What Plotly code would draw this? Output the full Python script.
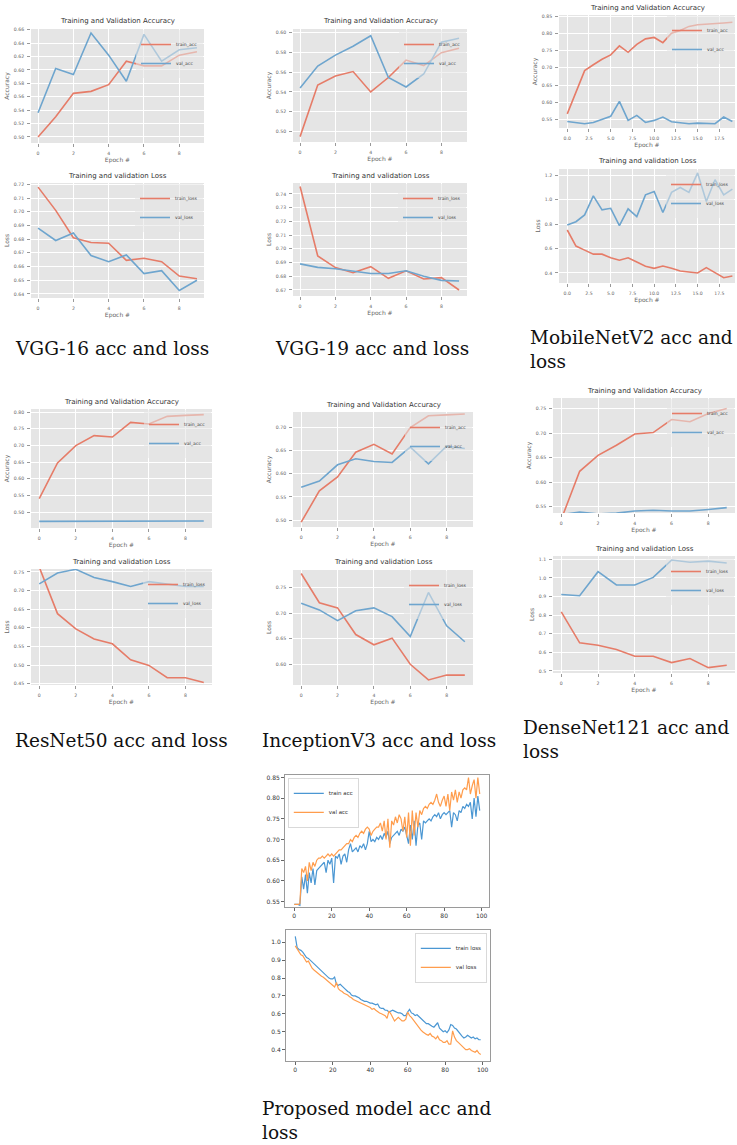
import plotly.graph_objects as go

W, H = 737, 1145

# ---------------- data ----------------
epochs_10 = list(range(10))
epochs_20 = list(range(20))
epochs_100 = list(range(100))

vgg16_train_acc = [0.500, 0.530, 0.565, 0.568, 0.578, 0.613, 0.606, 0.606, 0.622, 0.627]
vgg16_val_acc = [0.536, 0.602, 0.593, 0.655, 0.622, 0.583, 0.653, 0.613, 0.630, 0.633]
vgg16_train_loss = [0.718, 0.701, 0.681, 0.6775, 0.677, 0.6645, 0.666, 0.6635, 0.653, 0.651]
vgg16_val_loss = [0.688, 0.679, 0.6845, 0.668, 0.6635, 0.6685, 0.6548, 0.657, 0.6425, 0.650]

vgg19_train_acc = [0.495, 0.547, 0.556, 0.5605, 0.540, 0.5545, 0.572, 0.5665, 0.5795, 0.584]
vgg19_val_acc = [0.544, 0.566, 0.577, 0.586, 0.5965, 0.5545, 0.545, 0.558, 0.590, 0.594]
vgg19_train_loss = [0.7455, 0.6948, 0.6863, 0.6826, 0.687, 0.6785, 0.684, 0.678, 0.679, 0.670]
vgg19_val_loss = [0.689, 0.6865, 0.6855, 0.684, 0.682, 0.682, 0.684, 0.680, 0.677, 0.6765]

mobilenet_train_acc = [0.567, 0.632, 0.692, 0.709, 0.725, 0.7375, 0.7635, 0.745, 0.768, 0.784,
                       0.788, 0.773, 0.800, 0.808, 0.820, 0.825, 0.826, 0.828, 0.830, 0.832]
mobilenet_val_acc = [0.545, 0.542, 0.5385, 0.542, 0.552, 0.560, 0.603, 0.548, 0.5625, 0.542,
                     0.548, 0.5577, 0.544, 0.542, 0.5385, 0.540, 0.5385, 0.5385, 0.5577, 0.545]
mobilenet_train_loss = [0.752, 0.620, 0.587, 0.554, 0.554, 0.524, 0.504, 0.524, 0.490, 0.455,
                        0.438, 0.457, 0.438, 0.416, 0.408, 0.400, 0.444, 0.400, 0.361, 0.375]
mobilenet_val_loss = [0.793, 0.820, 0.876, 1.032, 0.917, 0.930, 0.788, 0.925, 0.862, 1.040,
                      1.068, 0.895, 1.060, 1.100, 1.060, 1.220, 0.985, 1.164, 1.040, 1.087]

resnet_train_acc = [0.540, 0.647, 0.699, 0.729, 0.725, 0.769, 0.764, 0.787, 0.790, 0.792]
resnet_val_acc = [0.472, 0.472, 0.472, 0.472, 0.472, 0.473, 0.473, 0.473, 0.474, 0.473]
resnet_train_loss = [0.763, 0.638, 0.597, 0.570, 0.557, 0.514, 0.499, 0.466, 0.466, 0.453]
resnet_val_loss = [0.718, 0.747, 0.757, 0.735, 0.724, 0.711, 0.724, 0.718, 0.711, 0.711]

inception_train_acc = [0.496, 0.563, 0.593, 0.646, 0.663, 0.642, 0.699, 0.724, 0.726, 0.728]
inception_val_acc = [0.571, 0.584, 0.619, 0.632, 0.626, 0.624, 0.657, 0.621, 0.659, 0.654]
inception_train_loss = [0.777, 0.720, 0.710, 0.658, 0.638, 0.651, 0.600, 0.5695, 0.579, 0.579]
inception_val_loss = [0.719, 0.706, 0.685, 0.7045, 0.710, 0.693, 0.654, 0.740, 0.675, 0.644]

densenet_train_acc = [0.524, 0.622, 0.6545, 0.675, 0.698, 0.701, 0.7275, 0.723, 0.740, 0.750]
densenet_val_acc = [0.5336, 0.5388, 0.535, 0.5366, 0.541, 0.5425, 0.541, 0.541, 0.544, 0.5478]
densenet_train_loss = [0.818, 0.651, 0.638, 0.615, 0.579, 0.579, 0.545, 0.567, 0.518, 0.531]
densenet_val_loss = [0.911, 0.904, 1.0335, 0.962, 0.962, 1.003, 1.096, 1.084, 1.090, 1.080]

proposed_train_acc = [
    0.543, 0.543, 0.543, 0.541, 0.610, 0.580, 0.615, 0.570, 0.620, 0.595,
    0.630, 0.590, 0.625, 0.630, 0.635, 0.640, 0.645, 0.620, 0.650, 0.640,
    0.655, 0.595, 0.660, 0.655, 0.665, 0.640, 0.660, 0.665, 0.645, 0.675,
    0.690, 0.670, 0.675, 0.680, 0.670, 0.685, 0.680, 0.690, 0.675, 0.690,
    0.720, 0.695, 0.700, 0.695, 0.705, 0.700, 0.710, 0.700, 0.715, 0.705,
    0.720, 0.690, 0.705, 0.710, 0.715, 0.720, 0.710, 0.725, 0.720, 0.730,
    0.710, 0.690, 0.735, 0.700, 0.745, 0.685, 0.735, 0.740, 0.700, 0.745,
    0.740, 0.745, 0.750, 0.745, 0.755, 0.760, 0.755, 0.765, 0.750, 0.760,
    0.765, 0.760, 0.765, 0.770, 0.730, 0.765, 0.760, 0.745, 0.770, 0.765,
    0.780, 0.775, 0.785, 0.780, 0.790, 0.750, 0.800, 0.755, 0.805, 0.770]
proposed_val_acc = [
    0.543, 0.543, 0.543, 0.545, 0.630, 0.620, 0.635, 0.600, 0.645, 0.625,
    0.645, 0.635, 0.650, 0.655, 0.655, 0.660, 0.655, 0.660, 0.665, 0.660,
    0.665, 0.660, 0.665, 0.670, 0.675, 0.675, 0.680, 0.685, 0.690, 0.690,
    0.700, 0.695, 0.705, 0.710, 0.705, 0.715, 0.720, 0.715, 0.725, 0.730,
    0.725, 0.710, 0.720, 0.725, 0.730, 0.730, 0.740, 0.720, 0.745, 0.700,
    0.750, 0.680, 0.745, 0.735, 0.755, 0.740, 0.760, 0.750, 0.720, 0.755,
    0.705, 0.765, 0.685, 0.770, 0.710, 0.765, 0.730, 0.770, 0.760, 0.775,
    0.780, 0.775, 0.785, 0.790, 0.785, 0.795, 0.810, 0.790, 0.780, 0.795,
    0.805, 0.780, 0.810, 0.770, 0.815, 0.795, 0.820, 0.790, 0.815, 0.800,
    0.820, 0.825, 0.820, 0.850, 0.810, 0.830, 0.845, 0.800, 0.850, 0.810]
proposed_train_loss = [
    1.033, 0.970, 0.960, 0.955, 0.945, 0.930, 0.915, 0.910, 0.900, 0.885,
    0.875, 0.870, 0.860, 0.850, 0.840, 0.830, 0.820, 0.810, 0.800, 0.795,
    0.795, 0.805, 0.765, 0.760, 0.765, 0.755, 0.745, 0.730, 0.725, 0.720,
    0.705, 0.700, 0.700, 0.695, 0.690, 0.680, 0.675, 0.670, 0.670, 0.665,
    0.660, 0.660, 0.655, 0.650, 0.655, 0.635, 0.630, 0.630, 0.620, 0.620,
    0.610, 0.615, 0.620, 0.615, 0.610, 0.605, 0.605, 0.600, 0.590, 0.590,
    0.610, 0.625, 0.605, 0.600, 0.590, 0.595, 0.585, 0.575, 0.565, 0.550,
    0.545, 0.545, 0.535, 0.530, 0.525, 0.540, 0.550, 0.520, 0.510, 0.500,
    0.505, 0.495, 0.510, 0.540, 0.535, 0.520, 0.515, 0.500, 0.490, 0.475,
    0.465, 0.470, 0.480, 0.470, 0.465, 0.470, 0.460, 0.465, 0.455, 0.455]
proposed_val_loss = [
    0.980, 0.965, 0.950, 0.930, 0.925, 0.905, 0.890, 0.895, 0.870, 0.855,
    0.845, 0.835, 0.830, 0.820, 0.810, 0.805, 0.795, 0.785, 0.775, 0.765,
    0.755, 0.750, 0.775, 0.740, 0.730, 0.725, 0.715, 0.710, 0.705, 0.695,
    0.690, 0.680, 0.675, 0.670, 0.665, 0.660, 0.655, 0.650, 0.645, 0.640,
    0.635, 0.625, 0.630, 0.620, 0.610, 0.605, 0.600, 0.595, 0.590, 0.575,
    0.615, 0.600, 0.580, 0.560, 0.570, 0.580, 0.570, 0.560, 0.560, 0.570,
    0.610, 0.590, 0.580, 0.565, 0.550, 0.540, 0.520, 0.510, 0.500, 0.490,
    0.485, 0.480, 0.490, 0.475, 0.470, 0.460, 0.475, 0.455, 0.450, 0.440,
    0.440, 0.450, 0.430, 0.430, 0.505, 0.470, 0.450, 0.440, 0.430, 0.420,
    0.410, 0.400, 0.400, 0.405, 0.395, 0.390, 0.385, 0.395, 0.380, 0.373]

acc_title = "Training and Validation Accuracy"
loss_title = "Training and validation Loss"
captions = [
    ("VGG-16 acc and loss", 13, 348),
    ("VGG-19 acc and loss", 273, 348),
    ("MobileNetV2 acc and<br>loss", 528, 349),
    ("ResNet50 acc and loss", 13, 740),
    ("InceptionV3 acc and loss", 260, 740),
    ("DenseNet121 acc and<br>loss", 521, 739),
    ("Proposed model acc and<br>loss", 260, 1120),
]

# ---------------- panel configuration ----------------
# box = (left, right, top, bottom) in pixels
panels = [
    dict(x=epochs_10, tr=vgg16_train_acc, va=vgg16_val_acc, kind="acc", box=(31, 204, 29, 143),
         yr=(0.491, 0.661), ydt=0.02, yfmt=".2f", xr=(-0.4, 9.4), xdt=2, xfmt="d", style="gg"),
    dict(x=epochs_10, tr=vgg16_train_loss, va=vgg16_val_loss, kind="loss", box=(31, 204, 183, 298),
         yr=(0.637, 0.721), ydt=0.01, yfmt=".2f", xr=(-0.4, 9.4), xdt=2, xfmt="d", style="gg"),
    dict(x=epochs_10, tr=vgg19_train_acc, va=vgg19_val_acc, kind="acc", box=(293, 467, 29, 142),
         yr=(0.4896, 0.6033), ydt=0.02, yfmt=".2f", xr=(-0.4, 9.45), xdt=2, xfmt="d", style="gg"),
    dict(x=epochs_10, tr=vgg19_train_loss, va=vgg19_val_loss, kind="loss", box=(293, 467, 183, 296),
         yr=(0.6656, 0.748), ydt=0.01, yfmt=".2f", xr=(-0.4, 9.45), xdt=2, xfmt="d", style="gg"),
    dict(x=epochs_20, tr=mobilenet_train_acc, va=mobilenet_val_acc, kind="acc", box=(559, 735, 15, 128),
         yr=(0.526, 0.853), ydt=0.05, yfmt=".2f", xr=(-0.95, 19.3), xdt=2.5, xfmt=".1f", style="gg"),
    dict(x=epochs_20, tr=mobilenet_train_loss, va=mobilenet_val_loss, kind="loss", box=(559, 735, 169, 283),
         yr=(0.3175, 1.252), ydt=0.2, yfmt=".1f", xr=(-0.95, 19.3), xdt=2.5, xfmt=".1f", style="gg"),
    dict(x=epochs_10, tr=resnet_train_acc, va=resnet_val_acc, kind="acc", box=(31, 212, 409, 528),
         yr=(0.452, 0.809), ydt=0.05, yfmt=".2f", xr=(-0.45, 9.45), xdt=2, xfmt="d", style="gg"),
    dict(x=epochs_10, tr=resnet_train_loss, va=resnet_val_loss, kind="loss", box=(31, 212, 569, 685),
         yr=(0.4465, 0.7579), ydt=0.05, yfmt=".2f", xr=(-0.45, 9.45), xdt=2, xfmt="d", style="gg"),
    dict(x=epochs_10, tr=inception_train_acc, va=inception_val_acc, kind="acc", box=(293, 473, 412, 527),
         yr=(0.4856, 0.7322), ydt=0.05, yfmt=".2f", xr=(-0.45, 9.45), xdt=2, xfmt="d", style="gg"),
    dict(x=epochs_10, tr=inception_train_loss, va=inception_val_loss, kind="loss", box=(293, 473, 570, 685),
         yr=(0.5597, 0.7838), ydt=0.05, yfmt=".2f", xr=(-0.45, 9.45), xdt=2, xfmt="d", style="gg"),
    dict(x=epochs_10, tr=densenet_train_acc, va=densenet_val_acc, kind="acc", box=(553, 735, 398, 513),
         yr=(0.5369, 0.7715), ydt=0.05, yfmt=".2f", xr=(-0.45, 9.45), xdt=2, xfmt="d", style="gg"),
    dict(x=epochs_10, tr=densenet_train_loss, va=densenet_val_loss, kind="loss", box=(553, 735, 556, 673),
         yr=(0.4892, 1.1178), ydt=0.1, yfmt=".1f", xr=(-0.45, 9.45), xdt=2, xfmt="d", style="gg"),
    dict(x=epochs_100, tr=proposed_train_acc, va=proposed_val_acc, kind="acc", box=(285, 489, 775, 907),
         yr=(0.5368, 0.856), ydt=0.05, yfmt=".2f", xr=(-4.95, 103.95), xdt=20, xfmt="d", style="mpl"),
    dict(x=epochs_100, tr=proposed_train_loss, va=proposed_val_loss, kind="loss", box=(286, 490, 930, 1061),
         yr=(0.336, 1.069), ydt=0.1, yfmt=".1f", xr=(-4.95, 103.95), xdt=20, xfmt="d", style="mpl"),
]

GG_TRAIN, GG_VAL = "#E67C68", "#6EA5CE"
MPL_TRAIN, MPL_VAL = "#4B97D3", "#FF9D4D"
SANS = "DejaVu Sans"


def px_x(p):
    return p / W


def px_y(p):
    return 1 - p / H


fig = go.Figure()
layout = dict(
    width=W, height=H, margin=dict(l=0, r=0, t=0, b=0),
    paper_bgcolor="white", plot_bgcolor="rgba(0,0,0,0)",
    font=dict(family=SANS, color="#555"),
    showlegend=True, annotations=[], shapes=[],
)

for i, p in enumerate(panels, start=1):
    suf = "" if i == 1 else str(i)
    xa, ya = "x" + suf, "y" + suf
    lg = "legend" + suf
    left, right, top, bottom = p["box"]
    gg = p["style"] == "gg"
    if gg:
        names = ("train_acc", "val_acc") if p["kind"] == "acc" else ("train_loss", "val_loss")
        colors = (GG_TRAIN, GG_VAL)
        lw = 1.6
    else:
        names = ("train acc", "val acc") if p["kind"] == "acc" else ("train loss", "val loss")
        colors = (MPL_TRAIN, MPL_VAL)
        lw = 1.2
    for ys, nm, col in ((p["tr"], names[0], colors[0]), (p["va"], names[1], colors[1])):
        fig.add_trace(go.Scatter(x=p["x"], y=ys, mode="lines", name=nm,
                                 line=dict(color=col, width=lw), xaxis=xa, yaxis=ya,
                                 legend=lg, hoverinfo="skip"))

    if gg:
        common = dict(showgrid=True, gridcolor="white", gridwidth=0.8, zeroline=False, showline=False,
                      ticks="outside", ticklen=3, tickwidth=0.6, tickcolor="#999",
                      tickfont=dict(family=SANS, size=4.6, color="#666"), ticklabelstandoff=2,
                      automargin=False)
        tfont = dict(family=SANS, size=6, color="#666")
    else:
        common = dict(showgrid=False, zeroline=False, showline=True, mirror=True,
                      linecolor="#9a9a9a", linewidth=0.9, ticks="outside", ticklen=3,
                      tickwidth=0.8, tickcolor="#666",
                      tickfont=dict(family=SANS, size=6, color="#333"), automargin=False)
        tfont = dict(family=SANS, size=6, color="#333")

    xax = dict(common, domain=[px_x(left), px_x(right)], range=list(p["xr"]),
               tick0=0, dtick=p["xdt"], tickformat=p["xfmt"], anchor=ya)
    yax = dict(common, domain=[px_y(bottom), px_y(top)], range=list(p["yr"]),
               tick0=0, dtick=p["ydt"], tickformat=p["yfmt"], anchor=xa)
    if gg:
        xax["title"] = dict(text="Epoch #", font=tfont, standoff=2)
        yax["title"] = dict(text="Accuracy" if p["kind"] == "acc" else "Loss", font=tfont, standoff=3)
    layout["xaxis" + suf] = xax
    layout["yaxis" + suf] = yax

    if gg:
        layout["shapes"].append(dict(type="rect", xref=f"{xa} domain", yref=f"{ya} domain",
                                     x0=0, x1=1, y0=0, y1=1, fillcolor="#E5E5E5",
                                     line=dict(width=0), layer="below"))
        layout["annotations"].append(dict(
            text=acc_title if p["kind"] == "acc" else loss_title,
            x=px_x((left + right) / 2), y=px_y(top - 1.5), xref="paper", yref="paper",
            xanchor="center", yanchor="bottom", showarrow=False,
            font=dict(family=SANS, size=7, color="#333")))
        layout[lg] = dict(x=px_x(right - 1), y=px_y(top + 1), xanchor="right", yanchor="top",
                          bgcolor="rgba(229,229,229,0.55)", borderwidth=0,
                          font=dict(family=SANS, size=4.6, color="#444"),
                          itemwidth=30, traceorder="normal")
    else:
        if p["kind"] == "acc":
            layout[lg] = dict(x=px_x(left + 3), y=px_y(top + 3), xanchor="left", yanchor="top")
        else:
            layout[lg] = dict(x=px_x(right - 3), y=px_y(top + 3), xanchor="right", yanchor="top")
        layout[lg].update(bgcolor="rgba(255,255,255,0.8)", bordercolor="#d0d0d0", borderwidth=0.8,
                          font=dict(family=SANS, size=5.5, color="#333"), traceorder="normal")

for text, cx, cy in captions:
    layout["annotations"].append(dict(
        text=text, x=px_x(cx), y=px_y(cy), xref="paper", yref="paper",
        xanchor="left", yanchor="middle", align="left", showarrow=False,
        font=dict(family="DejaVu Serif", size=18.5, color="#111")))

fig.update_layout(**layout)
fig.write_html("out.html")
